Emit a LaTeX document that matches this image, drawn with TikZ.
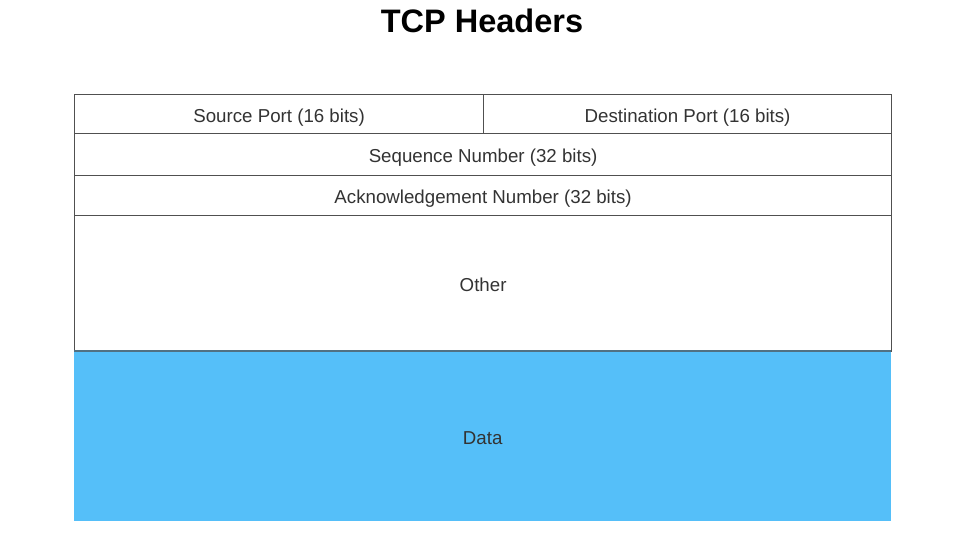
\documentclass[tikz,border=0pt]{standalone}
\usepackage{fontspec}
\setmainfont{Liberation Sans}
\definecolor{datablue}{HTML}{55BFF9}
\definecolor{linegray}{HTML}{505050}
\definecolor{txtgray}{HTML}{333333}
\begin{document}
\begin{tikzpicture}[x=1pt,y=-1pt,
  cell/.style={draw=linegray,line width=1.2pt,fill=white,anchor=north west,inner sep=0pt,
    text=txtgray,font=\fontsize{18.7}{22}\selectfont,text depth=0pt,text height=16pt},
  datacell/.style={fill=datablue,anchor=north west,inner sep=0pt,
    text=txtgray,font=\fontsize{18.7}{22}\selectfont,text depth=0pt,text height=16pt}]
\useasboundingbox (0,0) rectangle (970,533);
\node[font=\bfseries\fontsize{32.5}{38}\selectfont,text=black] (title) at (482,21) {TCP Headers};
\node[cell,minimum width=409pt,minimum height=39pt] (src) at (74,94) {Source Port (16 bits)};
\node[cell,minimum width=408pt,minimum height=39pt] (dst) at (483,94) {Destination Port (16 bits)};
\node[cell,minimum width=817pt,minimum height=42pt] (seq) at (74,133) {Sequence Number (32 bits)};
\node[cell,minimum width=817pt,minimum height=40pt] (ack) at (74,175) {Acknowledgement Number (32 bits)};
\node[cell,minimum width=817pt,minimum height=136pt] (other) at (74,215) {Other};
\node[datacell,minimum width=817pt,minimum height=170pt] (data) at (74,351) {Data};
\draw[draw=linegray!70!datablue,line width=1.4pt] (data.north west) -- (data.north east);
\end{tikzpicture}
\end{document}
